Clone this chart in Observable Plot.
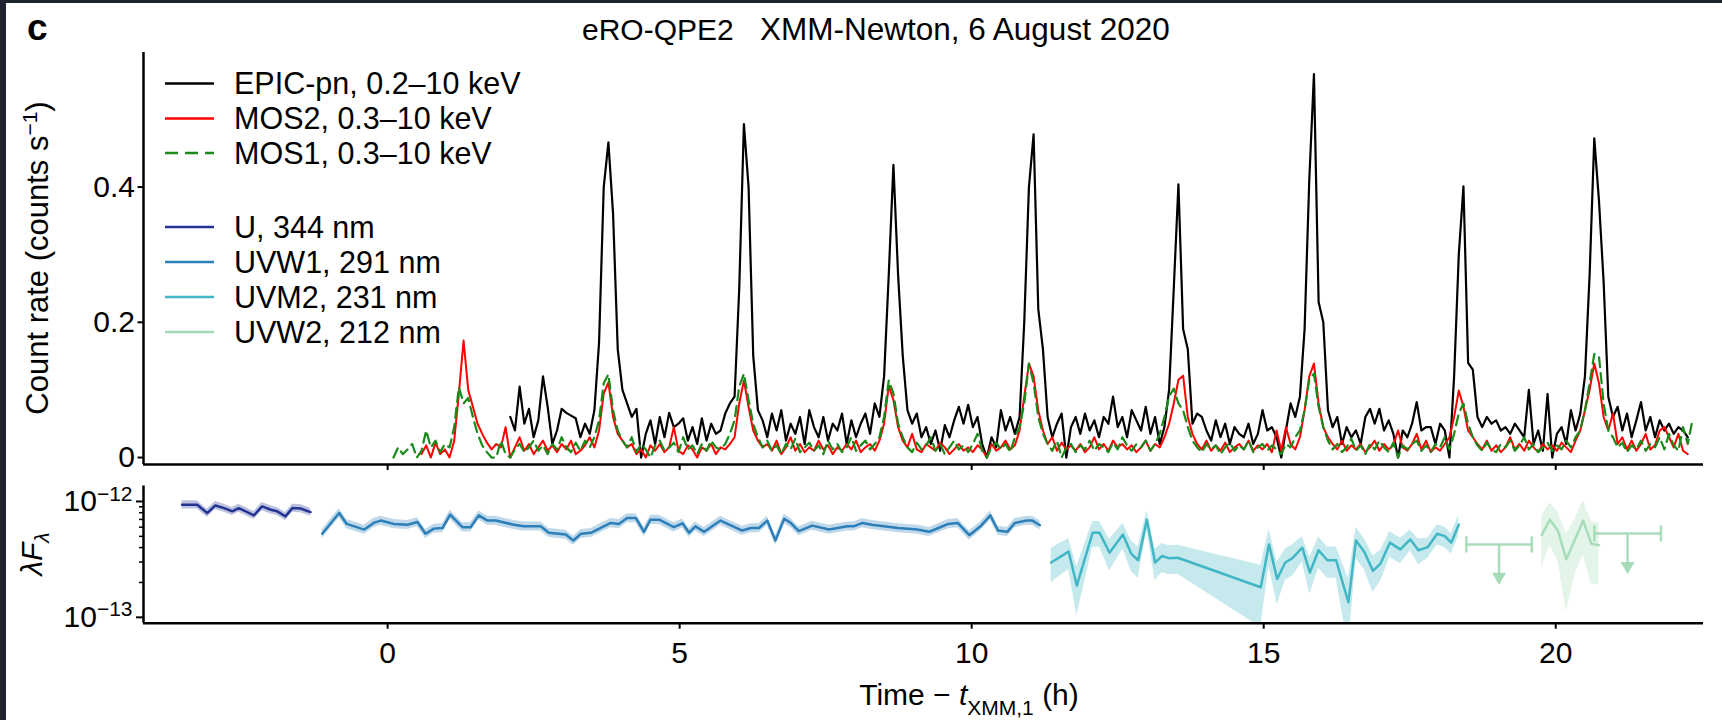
<!DOCTYPE html>
<html><head><meta charset="utf-8">
<script src="https://cdn.jsdelivr.net/npm/d3@7"></script>
<script src="https://cdn.jsdelivr.net/npm/@observablehq/plot@0.6"></script>
<style>
html,body{margin:0;padding:0;background:#fff;}
#wrap{position:relative;width:1722px;height:720px;overflow:hidden;background:#fff;}
#wrap svg{position:absolute;left:0;}
.edge{position:absolute;background:#1f2330;}
</style></head><body><div id="wrap"></div>
<script>
// ---------------- DATA ----------------
const binHours = 0.08;                 // light-curve bin (h)
// EPIC-pn 0.2–10 keV count rate, bins starting at 2.10 h
const pnStart = 2.10;
const pnRate = [
0.060,0.040,0.105,0.050,0.072,0.030,0.055,0.120,0.075,0.020,
0.040,0.072,0.066,0.062,0.058,0.030,0.050,0.035,0.070,0.170,
0.400,0.466,0.360,0.160,0.100,0.080,0.060,0.072,0.000,0.035,
0.055,0.020,0.060,0.030,0.066,0.045,0.050,0.058,0.025,0.045,
0.020,0.058,0.025,0.050,0.035,0.040,0.065,0.080,0.090,0.250,
0.493,0.400,0.150,0.070,0.055,0.030,0.065,0.040,0.070,0.025,
0.050,0.035,0.060,0.020,0.070,0.045,0.030,0.060,0.025,0.050,
0.040,0.065,0.020,0.055,0.030,0.050,0.065,0.035,0.080,0.060,
0.120,0.270,0.433,0.270,0.150,0.070,0.050,0.065,0.030,0.045,
0.020,0.040,0.010,0.048,0.030,0.055,0.075,0.050,0.078,0.045,
0.060,0.020,0.000,0.030,0.015,0.070,0.040,0.060,0.035,0.060,
0.200,0.400,0.478,0.220,0.160,0.060,0.030,0.050,0.065,0.000,
0.045,0.060,0.035,0.065,0.040,0.055,0.030,0.060,0.050,0.090,
0.045,0.060,0.030,0.070,0.055,0.040,0.075,0.035,0.060,0.020,
0.045,0.100,0.250,0.404,0.190,0.160,0.050,0.065,0.060,0.040,
0.025,0.055,0.030,0.050,0.020,0.045,0.035,0.030,0.050,0.020,
0.035,0.070,0.040,0.045,0.030,0.000,0.040,0.080,0.060,0.090,
0.190,0.410,0.567,0.230,0.200,0.070,0.045,0.060,0.020,0.045,
0.030,0.040,0.020,0.060,0.072,0.050,0.072,0.040,0.055,0.035,
0.000,0.040,0.030,0.050,0.082,0.040,0.045,0.045,0.020,0.050,
0.040,0.000,0.120,0.300,0.401,0.140,0.130,0.060,0.045,0.060,
0.050,0.055,0.040,0.045,0.035,0.050,0.040,0.030,0.100,0.020,
0.040,0.010,0.094,0.000,0.035,0.045,0.020,0.070,0.040,0.065,
0.120,0.270,0.472,0.380,0.260,0.090,0.060,0.075,0.040,0.065,
0.030,0.055,0.082,0.040,0.060,0.030,0.055,0.040,0.050,0.035,
0.045,0.040,0.030];
// MOS2 0.3–10 keV, bins starting at 0.58 h
const mos2Start = 0.58;
const mos2Rate = [
0.005,0.018,0.000,0.022,0.005,0.012,0.000,0.025,0.095,0.173,
0.100,0.075,0.050,0.035,0.022,0.012,0.020,0.015,0.045,0.000,
0.015,0.030,0.010,0.020,0.005,0.015,0.025,0.010,0.018,0.008,
0.020,0.012,0.025,0.005,0.010,0.018,0.030,0.015,0.040,0.095,
0.111,0.060,0.035,0.025,0.015,0.020,0.005,0.012,0.000,0.018,
0.010,0.020,0.008,0.015,0.045,0.010,0.005,0.018,0.012,0.000,
0.015,0.010,0.020,0.005,0.015,0.012,0.020,0.030,0.080,0.114,
0.075,0.040,0.025,0.015,0.020,0.010,0.025,0.005,0.015,0.030,
0.010,0.020,0.008,0.015,0.010,0.025,0.012,0.018,0.005,0.015,
0.010,0.020,0.012,0.025,0.008,0.015,0.020,0.010,0.025,0.050,
0.106,0.085,0.045,0.025,0.015,0.035,0.012,0.008,0.020,0.015,
0.010,0.022,0.015,0.005,0.012,0.020,0.010,0.015,0.008,0.018,
0.012,0.000,0.020,0.010,0.015,0.025,0.012,0.018,0.040,0.090,
0.139,0.120,0.070,0.040,0.020,0.030,0.010,0.022,0.012,0.018,
0.010,0.020,0.008,0.015,0.030,0.012,0.020,0.010,0.025,0.015,
0.020,0.012,0.018,0.008,0.015,0.025,0.010,0.020,0.015,0.030,
0.050,0.080,0.115,0.121,0.060,0.035,0.020,0.012,0.025,0.010,
0.018,0.010,0.022,0.008,0.015,0.020,0.012,0.025,0.010,0.018,
0.012,0.020,0.008,0.040,0.010,0.045,0.020,0.012,0.030,0.070,
0.120,0.139,0.080,0.045,0.030,0.020,0.012,0.025,0.010,0.018,
0.012,0.020,0.008,0.015,0.025,0.010,0.020,0.012,0.018,0.040,
0.015,0.010,0.020,0.035,0.012,0.025,0.008,0.015,0.010,0.020,
0.030,0.060,0.099,0.075,0.040,0.030,0.020,0.012,0.025,0.010,
0.018,0.008,0.015,0.030,0.012,0.020,0.010,0.025,0.015,0.008,
0.020,0.012,0.018,0.010,0.022,0.015,0.008,0.025,0.040,0.070,
0.100,0.139,0.110,0.060,0.040,0.065,0.020,0.030,0.012,0.025,
0.010,0.020,0.035,0.012,0.018,0.040,0.045,0.030,0.015,0.035,0.010,0.005];
// MOS1 0.3–10 keV, bins starting at 0.10 h
const mos1Start = 0.10;
const mos1Rate = [
0.000,0.015,0.005,0.012,0.020,0.000,0.010,0.040,0.015,0.025,
0.008,0.020,0.015,0.045,0.104,0.080,0.088,0.060,0.035,0.018,
0.008,0.000,0.000,0.025,0.005,0.000,0.012,0.020,0.008,0.015,
0.025,0.010,0.018,0.005,0.020,0.012,0.030,0.015,0.008,0.022,
0.010,0.025,0.015,0.030,0.055,0.110,0.123,0.070,0.040,0.025,
0.015,0.030,0.008,0.020,0.012,0.000,0.018,0.025,0.010,0.015,
0.022,0.008,0.030,0.012,0.018,0.005,0.020,0.010,0.025,0.015,
0.012,0.020,0.035,0.055,0.105,0.124,0.085,0.050,0.030,0.015,
0.025,0.010,0.018,0.005,0.020,0.012,0.028,0.008,0.015,0.022,
0.010,0.018,0.005,0.025,0.012,0.020,0.008,0.015,0.030,0.010,
0.018,0.025,0.012,0.020,0.030,0.060,0.114,0.095,0.050,0.030,
0.015,0.008,0.022,0.012,0.018,0.030,0.010,0.020,0.005,0.015,
0.025,0.012,0.018,0.008,0.020,0.035,0.010,0.000,0.015,0.022,
0.012,0.020,0.008,0.030,0.045,0.080,0.139,0.110,0.060,0.035,
0.020,0.010,0.025,0.000,0.015,0.020,0.008,0.018,0.012,0.025,
0.010,0.020,0.015,0.008,0.022,0.012,0.030,0.018,0.010,0.020,
0.015,0.025,0.010,0.020,0.035,0.060,0.090,0.102,0.080,0.070,
0.045,0.025,0.015,0.008,0.020,0.012,0.018,0.005,0.015,0.022,
0.010,0.018,0.012,0.025,0.008,0.015,0.020,0.010,0.018,0.012,
0.005,0.020,0.015,0.030,0.040,0.070,0.115,0.124,0.075,0.045,
0.025,0.012,0.020,0.008,0.015,0.028,0.010,0.018,0.005,0.020,
0.012,0.025,0.015,0.008,0.022,0.000,0.018,0.012,0.020,0.025,
0.010,0.018,0.008,0.020,0.015,0.030,0.012,0.035,0.065,0.080,
0.050,0.030,0.018,0.010,0.022,0.012,0.008,0.020,0.015,0.025,
0.010,0.018,0.030,0.012,0.020,0.008,0.015,0.022,0.010,0.018,
0.012,0.025,0.015,0.030,0.040,0.070,0.110,0.153,0.150,0.080,
0.040,0.030,0.015,0.022,0.008,0.018,0.012,0.025,0.010,0.020,
0.015,0.030,0.012,0.035,0.018,0.010,0.045,0.020,0.055];

// OM photometry, λFλ (erg s^-1 cm^-2)
const uTime = [-3.52,-3.26,-3.09,-2.95,-2.80,-2.66,-2.55,-2.43,-2.29,-2.15,-2.00,-1.89,-1.75,-1.63,-1.49,-1.32];
const uFlux = [9.37e-13,9.37e-13,7.94e-13,9.24e-13,8.77e-13,8.22e-13,8.77e-13,8.22e-13,7.59e-13,9.06e-13,8.49e-13,8.22e-13,7.44e-13,8.77e-13,8.70e-13,8.10e-13];
const uRelErr = 0.08;

const uvw1Time = [-1.12,-0.83,-0.70,-0.40,-0.24,-0.12,0.11,0.34,0.51,0.65,0.79,0.94,1.07,1.28,1.42,1.56,1.71,1.85,2.16,2.33,2.62,2.76,3.05,3.18,3.31,3.48,3.82,3.96,4.10,4.25,4.39,4.50,4.65,4.90,5.05,5.16,5.27,5.42,5.70,6.07,6.22,6.36,6.50,6.64,6.79,6.90,7.04,7.27,7.56,7.87,7.98,8.13,8.29,8.74,9.07,9.27,9.43,9.60,9.76,9.96,10.15,10.32,10.45,10.61,10.74,10.94,11.04,11.17];
const uvw1Flux = [5.26e-13,7.94e-13,6.40e-13,5.72e-13,6.53e-13,6.84e-13,6.40e-13,6.30e-13,6.65e-13,5.26e-13,5.83e-13,5.90e-13,7.69e-13,6.00e-13,6.00e-13,7.59e-13,6.84e-13,6.84e-13,6.30e-13,6.10e-13,6.10e-13,5.37e-13,5.19e-13,4.60e-13,5.26e-13,5.37e-13,6.53e-13,6.40e-13,7.20e-13,7.20e-13,5.47e-13,6.97e-13,6.97e-13,6.00e-13,6.48e-13,5.37e-13,6.10e-13,5.47e-13,6.84e-13,5.61e-13,5.90e-13,5.90e-13,6.84e-13,4.60e-13,7.10e-13,6.53e-13,5.55e-13,6.19e-13,5.72e-13,6.10e-13,6.10e-13,6.53e-13,6.30e-13,5.90e-13,5.72e-13,5.47e-13,5.90e-13,6.40e-13,6.53e-13,5.12e-13,6.10e-13,7.59e-13,5.61e-13,5.47e-13,6.53e-13,6.84e-13,6.84e-13,6.24e-13];
const uvw1RelErr = 0.09;

const uvm2Time = [11.36,11.66,11.80,12.07,12.19,12.36,12.59,12.73,12.85,13.00,13.14,13.26,13.37,13.53,14.95,15.09,15.23,15.37,15.50,15.66,15.79,15.94,16.09,16.24,16.45,16.58,16.72,16.87,17.00,17.16,17.34,17.51,17.65,17.81,17.97,18.10,18.21,18.34];
const uvm2Flux = [2.97e-13,3.69e-13,1.88e-13,5.36e-13,5.36e-13,3.61e-13,5.19e-13,3.55e-13,3.11e-13,6.97e-13,2.97e-13,3.39e-13,3.24e-13,3.27e-13,1.82e-13,4.26e-13,2.14e-13,2.97e-13,3.27e-13,3.99e-13,2.44e-13,3.79e-13,3.11e-13,3.11e-13,1.35e-13,4.61e-13,3.69e-13,2.52e-13,2.91e-13,4.41e-13,3.86e-13,4.70e-13,3.79e-13,4.04e-13,5.26e-13,5.02e-13,4.41e-13,6.31e-13];
const uvm2RelErr = [0.33,0.30,0.45,0.25,0.25,0.30,0.25,0.30,0.30,0.20,0.30,0.28,0.28,0.28,0.55,0.35,0.40,0.30,0.30,0.25,0.35,0.30,0.30,0.30,0.60,0.30,0.30,0.35,0.30,0.25,0.25,0.20,0.25,0.20,0.20,0.20,0.20,0.20];

const uvw2Time = [19.76,19.90,20.04,20.18,20.33,20.47,20.61,20.74];
const uvw2Flux = [5.12e-13,6.97e-13,5.55e-13,3.17e-13,4.70e-13,6.84e-13,4.32e-13,4.20e-13];
const uvw2RelErr = [0.47,0.40,0.45,0.65,0.50,0.50,0.55,0.55];
// UVW2 upper limits: centre time, half-width of bin (h), limit value
const uvw2UlTime = [19.03, 21.23];
const uvw2UlHalf = [0.56, 0.57];
const uvw2UlFlux = [4.26e-13, 5.29e-13];

const xTicks = [0, 5, 10, 15, 20];
const countTicks = [0, 0.2, 0.4];
const fluxTicks = [1e-13, 1e-12];
const fluxMinorTicks = [2e-13,3e-13,4e-13,5e-13,6e-13,7e-13,8e-13,9e-13];

// ---------------- CHART ----------------
const FONT = '"Liberation Sans", Arial, Helvetica, sans-serif';
const X_DOMAIN = [-4.18, 22.53];
const Y_COUNT_DOMAIN = [-0.0103, 0.599];
const Y_FLUX_DOMAIN = [8.9e-14, 1.36e-12];
const C = {pn:"#000000", mos2:"#ff0000", mos1:"#1a8a1a", u:"#253494", uvw1:"#2c7fb8", uvm2:"#41b6c4", uvw2:"#a1dab4"};
const ARROW = Math.pow(10, -0.28);  // drawn arrow length for upper limits
const CAP = Math.pow(10, 0.07);     // cap half-height for UL bars

const series = (start, vals) => vals.map((v, i) => ({t: start + i * binHours, v}));
const pn = series(pnStart, pnRate), mos2 = series(mos2Start, mos2Rate), mos1 = series(mos1Start, mos1Rate);
const band = (T, F, R) => T.map((t, i) => {
  const r = Array.isArray(R) ? R[i] : R;
  return {t, v: F[i], lo: F[i] * (1 - r), hi: F[i] * (1 + r)};
});
const uData = band(uTime, uFlux, uRelErr);
const w1Data = band(uvw1Time, uvw1Flux, uvw1RelErr);
const m2Data = band(uvm2Time, uvm2Flux, uvm2RelErr);
const w2Data = band(uvw2Time, uvw2Flux, uvw2RelErr);
const ulData = uvw2UlTime.map((t, i) => ({t, x1: t - uvw2UlHalf[i], x2: t + uvw2UlHalf[i], v: uvw2UlFlux[i]}));

const baseStyle = {fontFamily: FONT, fontSize: "30px", color: "#000", background: "transparent", overflow: "visible"};

const upper = Plot.plot({
  width: 1722, height: 470,
  marginLeft: 143, marginRight: 19, marginTop: 52, marginBottom: 6,
  style: baseStyle,
  x: {domain: X_DOMAIN, label: null},
  y: {domain: Y_COUNT_DOMAIN, label: null},
  marks: [
    Plot.lineY(pn, {x: "t", y: "v", stroke: C.pn, strokeWidth: 2.2}),
    Plot.lineY(mos2, {x: "t", y: "v", stroke: C.mos2, strokeWidth: 2}),
    Plot.lineY(mos1, {x: "t", y: "v", stroke: C.mos1, strokeWidth: 2.2, strokeDasharray: "10,6"}),
    Plot.ruleX([X_DOMAIN[0]], {stroke: "#000", strokeWidth: 2.5}),
    Plot.ruleY([Y_COUNT_DOMAIN[0]], {stroke: "#000", strokeWidth: 2.5}),
    Plot.axisY({ticks: countTicks, tickSize: 5.5, tickPadding: 3, strokeWidth: 2, label: null,
      tickFormat: d => d === 0 ? "0" : d.toFixed(1)}),
    Plot.axisX({ticks: xTicks, tickSize: 6, strokeWidth: 2, label: null, tickFormat: () => ""})
  ]
});

const lower = Plot.plot({
  width: 1722, height: 250,
  marginLeft: 143, marginRight: 19, marginTop: 15.5, marginBottom: 97.3,
  style: baseStyle,
  x: {domain: X_DOMAIN, label: null},
  y: {type: "log", domain: Y_FLUX_DOMAIN, label: null},
  marks: [
    Plot.areaY(uData, {x: "t", y1: "lo", y2: "hi", fill: C.u, fillOpacity: 0.3, clip: true}),
    Plot.lineY(uData, {x: "t", y: "v", stroke: C.u, strokeWidth: 2.5, clip: true}),
    Plot.areaY(w1Data, {x: "t", y1: "lo", y2: "hi", fill: C.uvw1, fillOpacity: 0.3, clip: true}),
    Plot.lineY(w1Data, {x: "t", y: "v", stroke: C.uvw1, strokeWidth: 2.5, clip: true}),
    Plot.areaY(m2Data, {x: "t", y1: "lo", y2: "hi", fill: C.uvm2, fillOpacity: 0.3, clip: true}),
    Plot.lineY(m2Data, {x: "t", y: "v", stroke: C.uvm2, strokeWidth: 2.5, clip: true}),
    Plot.areaY(w2Data, {x: "t", y1: "lo", y2: "hi", fill: C.uvw2, fillOpacity: 0.3, clip: true}),
    Plot.lineY(w2Data, {x: "t", y: "v", stroke: C.uvw2, strokeWidth: 2.5, strokeOpacity: 0.9, clip: true}),
    // upper limits
    Plot.link(ulData, {x1: "x1", x2: "x2", y1: "v", y2: "v", stroke: C.uvw2, strokeWidth: 2.5, strokeOpacity: 0.9}),
    Plot.link(ulData, {x1: "x1", x2: "x1", y1: d => d.v / CAP, y2: d => d.v * CAP, stroke: C.uvw2, strokeWidth: 2.5, strokeOpacity: 0.9}),
    Plot.link(ulData, {x1: "x2", x2: "x2", y1: d => d.v / CAP, y2: d => d.v * CAP, stroke: C.uvw2, strokeWidth: 2.5, strokeOpacity: 0.9}),
    Plot.link(ulData, {x1: "t", x2: "t", y1: "v", y2: d => d.v * ARROW, stroke: C.uvw2, strokeWidth: 2.5, strokeOpacity: 0.9}),
    Plot.dot(ulData, {x: "t", y: d => d.v * ARROW, symbol: "triangle", rotate: 180, r: 5.2, fill: C.uvw2, fillOpacity: 0.95, stroke: "none"}),
    Plot.ruleX([X_DOMAIN[0]], {stroke: "#000", strokeWidth: 2.5}),
    Plot.ruleY([Y_FLUX_DOMAIN[0]], {stroke: "#000", strokeWidth: 2.5}),
    Plot.axisY({ticks: fluxTicks, tickSize: 7, tickPadding: 4, strokeWidth: 2, label: null,
      tickFormat: d => "10|" + Math.round(Math.log10(d))}),
    Plot.axisY({ticks: fluxMinorTicks, tickSize: 4, strokeWidth: 1.5, label: null, tickFormat: () => ""}),
    Plot.axisX({ticks: xTicks, tickSize: 6, tickPadding: 12, strokeWidth: 2, label: null, tickFormat: d => String(d)})
  ]
});

// superscript exponents for log tick labels
d3.select(lower).selectAll("text").each(function () {
  const s = this.textContent;
  if (!s.includes("|")) return;
  const [b, e] = s.split("|");
  const t = d3.select(this);
  t.text(null);
  t.append("tspan").text(b);
  t.append("tspan").attr("dy", "-0.5em").attr("font-size", "21px").text(e.replace("-", "\u2212"));
});

const wrap = document.getElementById("wrap");
upper.style.position = "absolute"; upper.style.top = "0px"; upper.style.left = "0px";
lower.style.position = "absolute"; lower.style.top = "470px"; lower.style.left = "0px";
wrap.appendChild(upper);
wrap.appendChild(lower);

// ---------------- annotations: title, labels, legend ----------------
const ov = d3.select(wrap).append("svg")
  .attr("width", 1722).attr("height", 720)
  .style("position", "absolute").style("top", "0px").style("left", "0px")
  .attr("font-family", FONT).attr("font-size", 30).attr("fill", "#000");

ov.append("text").attr("x", 27).attr("y", 40).attr("font-weight", "bold").attr("font-size", 37).text("c");
ov.append("text").attr("x", 582).attr("y", 40).attr("font-size", 30).text("eRO-QPE2");
ov.append("text").attr("x", 760).attr("y", 40).attr("font-size", 31.5).text("XMM-Newton, 6 August 2020");

const yl = ov.append("text").attr("transform", "translate(48,258) rotate(-90)").attr("text-anchor", "middle").attr("font-size", 31);
yl.append("tspan").text("Count rate (counts s");
yl.append("tspan").attr("font-size", 21).attr("dy", -11).text("\u22121");
yl.append("tspan").attr("dy", 11).text(")");

const yl2 = ov.append("text").attr("transform", "translate(42,554) rotate(-90)").attr("text-anchor", "middle").attr("font-style", "italic");
yl2.append("tspan").text("\u03BBF");
yl2.append("tspan").attr("font-size", 21).attr("dy", 7).text("\u03BB");

const xl = ov.append("text").attr("x", 969).attr("y", 705).attr("text-anchor", "middle");
xl.append("tspan").text("Time \u2212 ");
xl.append("tspan").attr("font-style", "italic").text("t");
xl.append("tspan").attr("font-size", 21).attr("dy", 10).text("XMM,1");
xl.append("tspan").attr("dy", -10).text(" (h)");

const legendItems = [
  {label: "EPIC-pn, 0.2\u201310 keV", color: C.pn, dash: null, y: 83.5},
  {label: "MOS2, 0.3\u201310 keV", color: C.mos2, dash: null, y: 118.5},
  {label: "MOS1, 0.3\u201310 keV", color: C.mos1, dash: "13,7", y: 153},
  {label: "U, 344 nm", color: C.u, dash: null, y: 227},
  {label: "UVW1, 291 nm", color: C.uvw1, dash: null, y: 262},
  {label: "UVM2, 231 nm", color: C.uvm2, dash: null, y: 297},
  {label: "UVW2, 212 nm", color: C.uvw2, dash: null, y: 332}
];
for (const it of legendItems) {
  const ln = ov.append("line").attr("x1", 165).attr("x2", 214).attr("y1", it.y).attr("y2", it.y)
    .attr("stroke", it.color).attr("stroke-width", 2.5);
  if (it.dash) ln.attr("stroke-dasharray", it.dash);
  ov.append("text").attr("x", 234).attr("y", it.y + 10.7).attr("font-size", 30.5).text(it.label);
}

// dark page edges of the source image
d3.select(wrap).append("div").attr("class", "edge").style("left", "0px").style("top", "0px").style("width", "6px").style("height", "720px");
d3.select(wrap).append("div").attr("class", "edge").style("left", "0px").style("top", "0px").style("width", "1722px").style("height", "3px");
</script></body></html>
